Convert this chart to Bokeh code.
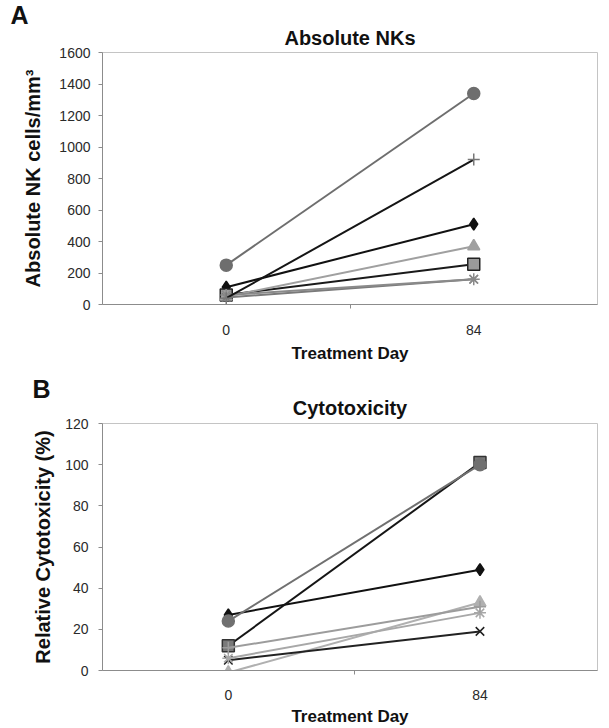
from bokeh.plotting import figure
from bokeh.layouts import column
from bokeh.models import FixedTicker, Range1d, Title
from bokeh.embed import file_html
from bokeh.resources import INLINE

# ---------------- data ----------------
days = ["0", "84"]
series_markers = ["diamond", "square", "triangle", "x", "asterisk", "circle", "cross"]

nk_day0 = [110, 60, 50, 45, 60, 250, 40]
nk_day84 = [510, 255, 370, 160, 160, 1340, 920]
nk_ticks = [0, 200, 400, 600, 800, 1000, 1200, 1400, 1600]

cyto_day0 = [27, 12, -1, 5, 6, 24, 11]
cyto_day84 = [49, 101, 33, 19, 28, 100, 31]
cyto_ticks = [0, 20, 40, 60, 80, 100, 120]

# styles (line colour, marker fill, marker line)
nk_styles = [
    ("#111111", "#111111", "#111111"),
    ("#1a1a1a", "#9a9a9a", "#222222"),
    ("#a0a0a0", "#a0a0a0", "#a0a0a0"),
    ("#7a7a7a", "#7a7a7a", "#7a7a7a"),
    ("#8a8a8a", "#8a8a8a", "#8a8a8a"),
    ("#6e6e6e", "#6e6e6e", "#6e6e6e"),
    ("#151515", "#777777", "#777777"),
]
cyto_styles = [
    ("#111111", "#111111", "#111111"),
    ("#151515", "#7a7a7a", "#333333"),
    ("#b0b0b0", "#b0b0b0", "#b0b0b0"),
    ("#222222", "#222222", "#222222"),
    ("#a8a8a8", "#a8a8a8", "#a8a8a8"),
    ("#707070", "#707070", "#707070"),
    ("#9c9c9c", "#9c9c9c", "#9c9c9c"),
]

FONT = "Liberation Sans"
xpos = [i + 0.5 for i in range(len(days))]


def make_panel(title, letter, ylabel, v0, v1, styles, yticks, width, height,
               mb, xend, ylab_standoff, tick_standoff, xl_standoff, xal_standoff,
               title_standoff, letter_standoff):
    p = figure(width=width, height=height, output_backend="svg", toolbar_location=None,
               x_range=Range1d(0, xend), y_range=Range1d(yticks[0], yticks[-1]),
               min_border_left=mb[0], min_border_right=mb[1],
               min_border_top=mb[2], min_border_bottom=mb[3],
               title=None)
    p.xgrid.visible = False
    p.ygrid.visible = False
    p.outline_line_color = "#c4c4c4"
    p.background_fill_color = "white"
    p.border_fill_color = "white"

    # chart title (closest to the frame), then panel letter above it
    p.add_layout(Title(text=title, align="center", offset=0, standoff=title_standoff,
                       text_font=FONT, text_font_size="20px", text_font_style="bold",
                       text_color="#111111"), "above")
    p.add_layout(Title(text=letter, align="left", offset=10 - mb[0],
                       standoff=letter_standoff,
                       text_font=FONT, text_font_size="25px", text_font_style="bold",
                       text_color="#111111"), "above")

    # x axis (categories between tick marks)
    p.xaxis.ticker = FixedTicker(ticks=xpos, minor_ticks=[1])
    p.xaxis.major_label_overrides = {x: d for x, d in zip(xpos, days)}
    p.xaxis.major_tick_out = 0
    p.xaxis.major_tick_in = 0
    p.xaxis.minor_tick_out = 4
    p.xaxis.minor_tick_in = 0
    p.xaxis.axis_label = "Treatment Day"
    p.xaxis.major_label_standoff = xl_standoff
    p.xaxis.axis_label_standoff = xal_standoff

    # y axis
    p.yaxis.ticker = FixedTicker(ticks=yticks)
    p.yaxis.major_tick_out = 4
    p.yaxis.major_tick_in = 0
    p.yaxis.minor_tick_line_color = None
    p.yaxis.axis_label = ylabel
    p.yaxis.major_label_standoff = tick_standoff
    p.yaxis.axis_label_standoff = ylab_standoff

    for ax in (p.xaxis, p.yaxis):
        ax.axis_line_color = "#8c8c8c"
        ax.major_tick_line_color = "#8c8c8c"
        ax.major_label_text_font = FONT
        ax.major_label_text_font_size = "14px"
        ax.major_label_text_color = "#2a2a2a"
        ax.axis_label_text_font = FONT
        ax.axis_label_text_font_style = "bold"
        ax.axis_label_text_color = "#111111"
    p.xaxis.minor_tick_line_color = "#8c8c8c"
    p.xaxis.axis_label_text_font_size = "17px"
    p.yaxis.axis_label_text_font_size = "20px"

    for m, a, b, (lc, fc, ec) in zip(series_markers, v0, v1, styles):
        p.line(xpos, [a, b], line_color=lc, line_width=2)
        p.scatter(xpos, [a, b], marker=m, size=12, fill_color=fc, line_color=ec,
                  line_width=1.5)
    return p


pa = make_panel("Absolute NKs", "A", "Absolute NK cells/mm³", nk_day0, nk_day84,
                nk_styles, nk_ticks, 609, 365, (102, 12, 52, 60), 2.0,
                12, 8, 16, 6, 8, -17)
pb = make_panel("Cytotoxicity", "B", "Relative Cytotoxicity (%)", cyto_day0, cyto_day84,
                cyto_styles, cyto_ticks, 609, 363, (80, 0, 58, 51), 1.967,
                8, 10, 15, 4, 10, -27)

layout = column(pa, pb, spacing=0)
open("out.html", "w").write(file_html(layout, INLINE))
